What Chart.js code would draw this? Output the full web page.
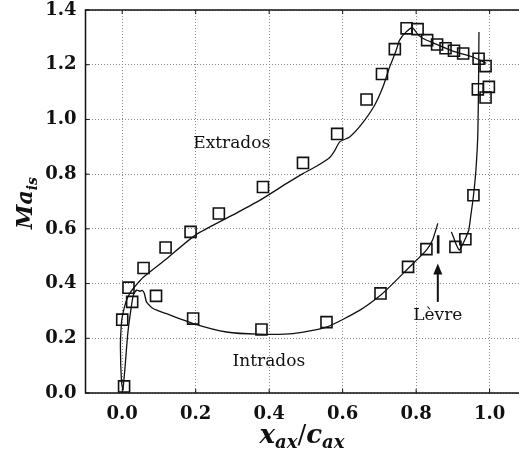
<!DOCTYPE html>
<html>
<head>
<meta charset="utf-8">
<script src="https://cdn.jsdelivr.net/npm/chart.js@4.4.1/dist/chart.umd.min.js"></script>
<style>
  html, body { margin: 0; padding: 0; background: #fff; }
</style>
</head>
<body>
<canvas id="machChart" width="519" height="458"></canvas>
<script>
// graduations des axes
const xTicks = [0.0, 0.2, 0.4, 0.6, 0.8, 1.0];
const yTicks = [0.0, 0.2, 0.4, 0.6, 0.8, 1.0, 1.2, 1.4];

// calcul - extrados (bord d'attaque -> bord de fuite)
const cfdExtX = [0.002, -0.002, -0.005, -0.003, 0.0, 0.01, 0.02, 0.03, 0.058, 0.12, 0.2, 0.3, 0.374, 0.45, 0.492, 0.53, 0.564, 0.578, 0.592, 0.619, 0.65, 0.687, 0.71, 0.728, 0.745, 0.755, 0.773, 0.79, 0.805, 0.819, 0.846, 0.9, 0.95, 0.973, 0.991];
const cfdExtY = [0.01, 0.04, 0.168, 0.24, 0.278, 0.333, 0.363, 0.382, 0.424, 0.49, 0.578, 0.65, 0.704, 0.768, 0.802, 0.83, 0.86, 0.885, 0.918, 0.936, 0.98, 1.052, 1.12, 1.192, 1.25, 1.29, 1.32, 1.335, 1.31, 1.296, 1.28, 1.25, 1.23, 1.217, 1.205];

// calcul - intrados (bord d'attaque -> lèvre)
const cfdIntX = [0.002, 0.008, 0.012, 0.016, 0.022, 0.03, 0.039, 0.048, 0.054, 0.06, 0.066, 0.084, 0.12, 0.193, 0.284, 0.37, 0.465, 0.556, 0.646, 0.703, 0.737, 0.778, 0.828, 0.845, 0.859];
const cfdIntY = [0.01, 0.1, 0.17, 0.229, 0.29, 0.357, 0.376, 0.372, 0.375, 0.365, 0.333, 0.309, 0.29, 0.254, 0.223, 0.215, 0.217, 0.241, 0.302, 0.357, 0.4, 0.455, 0.522, 0.56, 0.62];

// calcul - intrados (bord de fuite -> cavité après la lèvre)
const cfdTeX = [0.971, 0.970, 0.968, 0.963, 0.956, 0.949, 0.943, 0.932, 0.923, 0.918, 0.91, 0.903, 0.896];
const cfdTeY = [1.32, 1.15, 0.95, 0.82, 0.72, 0.65, 0.595, 0.558, 0.534, 0.522, 0.54, 0.565, 0.589];

// lèvre
const lipX = [0.86, 0.86];
const lipY = [0.51, 0.577];

// mesures - extrados
const expExtX = [0.0, 0.017, 0.058, 0.118, 0.186, 0.263, 0.383, 0.492, 0.585, 0.665, 0.707, 0.742, 0.774, 0.804, 0.83, 0.857, 0.88, 0.903, 0.928, 0.97, 0.989];
const expExtY = [0.268, 0.385, 0.457, 0.532, 0.589, 0.656, 0.753, 0.841, 0.947, 1.073, 1.166, 1.257, 1.333, 1.33, 1.29, 1.274, 1.26, 1.251, 1.241, 1.222, 1.195];

// mesures - intrados
const expIntX = [0.005, 0.027, 0.092, 0.193, 0.379, 0.556, 0.703, 0.778, 0.828, 0.907, 0.934, 0.956, 0.968, 0.989, 0.998];
const expIntY = [0.024, 0.333, 0.355, 0.272, 0.232, 0.259, 0.364, 0.461, 0.526, 0.534, 0.562, 0.723, 1.11, 1.08, 1.119];

// textes posés sur le graphique (coordonnées dans les unités des axes)
const labelTexts = ["Extrados", "Intrados", "Lèvre"];
const labelX = [0.298, 0.399, 0.859];
const labelY = [0.912, 0.116, 0.284];
const arrowX = 0.859;
const arrowFromY = 0.333;
const arrowToY = 0.473;

const zip = (xs, ys) => xs.map((x, i) => ({ x: x, y: ys[i] }));
const INK = "#111";

const lineSet = (data, width) => ({
  data: data,
  showLine: true,
  pointRadius: 0,
  borderColor: INK,
  borderWidth: width,
  tension: 0.2,
  fill: false
});

const squareSet = (data) => ({
  data: data,
  showLine: false,
  pointStyle: "rect",
  pointRadius: 7.8,
  pointHoverRadius: 7.8,
  pointBorderWidth: 1.6,
  borderColor: INK,
  backgroundColor: "rgba(0,0,0,0)",
  clip: false
});

// cadre, petites graduations, annotations et titres des axes
const decorPlugin = {
  id: "decor",
  afterDraw(chart) {
    const ctx = chart.ctx;
    const a = chart.chartArea;
    const xs = chart.scales.x;
    const ys = chart.scales.y;
    ctx.save();

    // cadre
    ctx.strokeStyle = INK;
    ctx.lineWidth = 1.5;
    ctx.beginPath();
    ctx.moveTo(a.right + 2, a.top);
    ctx.lineTo(a.left, a.top);
    ctx.lineTo(a.left, a.bottom);
    ctx.lineTo(a.right + 2, a.bottom);
    ctx.stroke();

    // graduations vers l'intérieur
    ctx.lineWidth = 1;
    ctx.beginPath();
    xTicks.forEach((v) => {
      const px = xs.getPixelForValue(v);
      ctx.moveTo(px, a.bottom); ctx.lineTo(px, a.bottom - 4);
      ctx.moveTo(px, a.top); ctx.lineTo(px, a.top + 4);
    });
    yTicks.forEach((v) => {
      const py = ys.getPixelForValue(v);
      ctx.moveTo(a.left, py); ctx.lineTo(a.left + 4, py);
    });
    ctx.stroke();

    // textes
    ctx.fillStyle = INK;
    ctx.font = "17px 'DejaVu Serif'";
    ctx.textAlign = "center";
    ctx.textBaseline = "middle";
    labelTexts.forEach((t, i) => {
      ctx.fillText(t, xs.getPixelForValue(labelX[i]), ys.getPixelForValue(labelY[i]));
    });

    // flèche de la lèvre
    const ax = xs.getPixelForValue(arrowX);
    const ay0 = ys.getPixelForValue(arrowFromY);
    const ay1 = ys.getPixelForValue(arrowToY);
    ctx.lineWidth = 2;
    ctx.beginPath();
    ctx.moveTo(ax, ay0);
    ctx.lineTo(ax, ay1 + 8);
    ctx.stroke();
    ctx.beginPath();
    ctx.moveTo(ax, ay1);
    ctx.lineTo(ax - 4.5, ay1 + 11);
    ctx.lineTo(ax + 4.5, ay1 + 11);
    ctx.closePath();
    ctx.fill();

    // titre axe x : x_ax / c_ax
    const big = "bold italic 26px 'DejaVu Serif'";
    const small = "bold italic 18px 'DejaVu Serif'";
    const xParts = [["x", big, 0], ["ax", small, 5], ["/", "26px 'DejaVu Serif'", 0], ["c", big, 0], ["ax", small, 5]];
    ctx.textAlign = "left";
    ctx.textBaseline = "alphabetic";
    let total = 0;
    xParts.forEach((p) => { ctx.font = p[1]; total += ctx.measureText(p[0]).width; });
    let cx = 302 - total / 2;
    xParts.forEach((p) => {
      ctx.font = p[1];
      ctx.fillText(p[0], cx, 443 + p[2]);
      cx += ctx.measureText(p[0]).width;
    });

    // titre axe y : Ma_is
    const yParts = [["Ma", "bold italic 22px 'DejaVu Serif'", 0], ["is", "bold italic 14px 'DejaVu Serif'", 5]];
    ctx.translate(32, 203);
    ctx.rotate(-Math.PI / 2);
    total = 0;
    yParts.forEach((p) => { ctx.font = p[1]; total += ctx.measureText(p[0]).width; });
    cx = -total / 2;
    yParts.forEach((p) => {
      ctx.font = p[1];
      ctx.fillText(p[0], cx, p[2]);
      cx += ctx.measureText(p[0]).width;
    });

    ctx.restore();
  }
};

const tickFont = { family: "'DejaVu Serif'", size: 18, weight: "bold" };

new Chart(document.getElementById("machChart"), {
  type: "scatter",
  data: {
    datasets: [
      lineSet(zip(cfdExtX, cfdExtY), 1.3),
      lineSet(zip(cfdIntX, cfdIntY), 1.3),
      lineSet(zip(cfdTeX, cfdTeY), 1.3),
      lineSet(zip(lipX, lipY), 2.6),
      squareSet(zip(expExtX, expExtY)),
      squareSet(zip(expIntX, expIntY))
    ]
  },
  options: {
    responsive: false,
    animation: false,
    layout: { autoPadding: false, padding: { top: 10, left: 0, right: 0, bottom: 0 } },
    plugins: {
      legend: { display: false },
      tooltip: { enabled: false }
    },
    scales: {
      x: {
        type: "linear",
        min: -0.1,
        max: 1.08,
        afterFit: (s) => { s.height = 65; s.paddingLeft = 0; s.paddingRight = 0; },
        afterBuildTicks: (s) => { s.ticks = xTicks.map((v) => ({ value: v })); },
        ticks: {
          font: tickFont,
          color: INK,
          padding: 11,
          maxRotation: 0,
          callback: (v) => v.toFixed(1)
        },
        grid: { color: "#8a8a8a", lineWidth: 1, drawTicks: false },
        border: { display: false, dash: [1, 2] }
      },
      y: {
        type: "linear",
        min: 0,
        max: 1.4,
        afterFit: (s) => { s.width = 85.5; s.paddingTop = 0; s.paddingBottom = 0; },
        afterBuildTicks: (s) => { s.ticks = yTicks.map((v) => ({ value: v })); },
        ticks: {
          font: tickFont,
          color: INK,
          padding: 9,
          callback: (v) => v.toFixed(1)
        },
        grid: { color: "#8a8a8a", lineWidth: 1, drawTicks: false },
        border: { display: false, dash: [1, 2] }
      }
    }
  },
  plugins: [decorPlugin]
});
</script>
</body>
</html>
